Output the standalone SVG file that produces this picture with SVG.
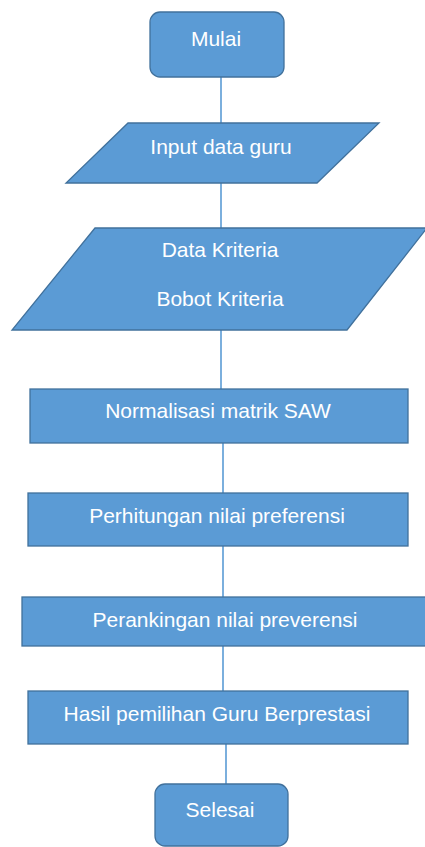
<svg xmlns="http://www.w3.org/2000/svg" width="425" height="847" viewBox="0 0 425 847">
  <style>
    .shape { fill: #5B9BD5; stroke: #41719C; stroke-width: 1.3; }
    .label { fill: #FFFFFF; font-family: "Liberation Sans", Arial, sans-serif; font-size: 21px; text-anchor: middle; }
    .link { stroke: #5B9BD5; stroke-width: 1.6; fill: none; }
  </style>
  <rect width="425" height="847" fill="#FFFFFF"/>

  <!-- connectors -->
  <g id="connectors">
    <line class="link" x1="221" y1="77" x2="221" y2="123"/>
    <line class="link" x1="221" y1="183" x2="221" y2="228"/>
    <line class="link" x1="221" y1="330" x2="221" y2="389"/>
    <line class="link" x1="223" y1="443" x2="223" y2="493"/>
    <line class="link" x1="223" y1="546" x2="223" y2="597"/>
    <line class="link" x1="223" y1="646" x2="223" y2="691"/>
    <line class="link" x1="226" y1="744" x2="226" y2="784"/>
  </g>

  <g id="mulai">
    <rect class="shape" x="150" y="12" width="134" height="65" rx="10"/>
    <text class="label" x="216" y="46">Mulai</text>
  </g>

  <g id="input-data-guru">
    <polygon class="shape" points="128,123 379,123 317,183 66,183"/>
    <text class="label" x="221" y="154">Input data guru</text>
  </g>

  <g id="data-kriteria">
    <polygon class="shape" points="95,228 427,228 347,330 12,330"/>
    <text class="label" x="220" y="257">Data Kriteria</text>
    <text class="label" x="220" y="306">Bobot Kriteria</text>
  </g>

  <g id="normalisasi">
    <rect class="shape" x="30" y="389" width="378" height="54"/>
    <text class="label" x="218" y="418">Normalisasi matrik SAW</text>
  </g>

  <g id="perhitungan">
    <rect class="shape" x="28" y="493" width="380" height="53"/>
    <text class="label" x="217" y="523">Perhitungan nilai preferensi</text>
  </g>

  <g id="perankingan">
    <rect class="shape" x="22" y="597" width="406" height="49"/>
    <text class="label" x="225" y="627">Perankingan nilai preverensi</text>
  </g>

  <g id="hasil">
    <rect class="shape" x="28" y="691" width="380" height="53"/>
    <text class="label" x="217" y="721">Hasil pemilihan Guru Berprestasi</text>
  </g>

  <g id="selesai">
    <rect class="shape" x="155" y="784" width="133" height="62" rx="10"/>
    <text class="label" x="220" y="817">Selesai</text>
  </g>
</svg>
